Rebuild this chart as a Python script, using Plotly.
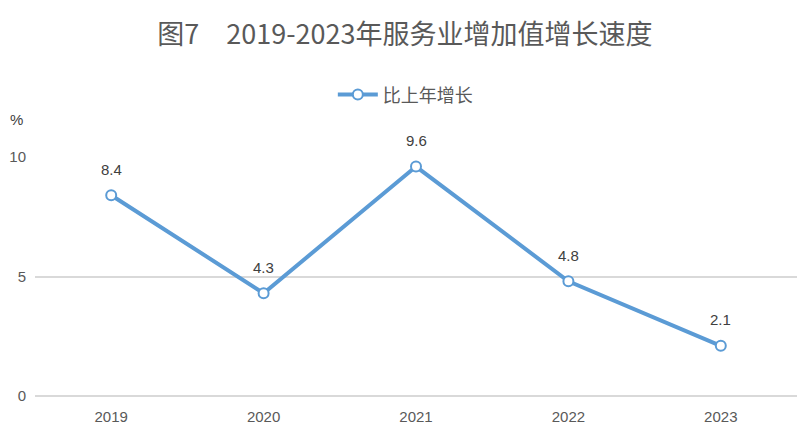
import plotly.graph_objects as go

# data
years = ["2019", "2020", "2021", "2022", "2023"]
growth = [8.4, 4.3, 9.6, 4.8, 2.1]
y_ticks = [0, 5, 10]

line_color = "#5b9bd5"
text_color = "#595959"
num_font = "Liberation Sans Narrow, Liberation Sans"

fig = go.Figure(go.Scatter(
    x=years, y=growth, mode="lines+markers", name="比上年增长",
    line=dict(color=line_color, width=4),
    marker=dict(size=10, color="white", line=dict(color=line_color, width=2)),
    cliponaxis=False,
))

# data labels above each point (category index used for x)
for i, y in enumerate(growth):
    fig.add_annotation(x=i, y=y, text=f"{y}", showarrow=False, yshift=26,
                       font=dict(size=15, color="#404040", family=num_font))

# unit label, pinned to the left edge of the figure
fig.add_annotation(text="%", xref="paper", yref="paper", x=-27 / 762, y=1.155,
                   xanchor="left", yanchor="middle", showarrow=False,
                   font=dict(size=15, color="#404040", family="Liberation Sans"))

# the page adds an 8px body margin, so margins are shifted to compensate
fig.update_layout(
    width=810, height=436,
    margin=dict(l=27, r=21, t=149, b=48),
    paper_bgcolor="white", plot_bgcolor="white",
    title=dict(text="图7　2019-2023年服务业增加值增长速度", x=0.49, y=0.938,
               xanchor="center", yanchor="middle",
               font=dict(size=27, color=text_color, family="Noto Sans CJK SC")),
    legend=dict(orientation="h", x=0.486, y=1.26, xanchor="center", yanchor="middle",
                itemwidth=40,
                font=dict(size=18, color=text_color, family="Noto Sans CJK SC")),
    showlegend=True,
    font=dict(family=num_font, color=text_color),
)
fig.update_xaxes(type="category", range=[-0.5, 4.5], showgrid=False, showline=False,
                 ticks="", ticklabelstandoff=10, automargin=False,
                 tickfont=dict(size=15, color=text_color))
fig.update_yaxes(range=[0, 10], tickvals=y_ticks, showgrid=True, gridcolor="#d9d9d9",
                 gridwidth=2, zeroline=True, zerolinecolor="#d9d9d9", zerolinewidth=2,
                 showline=False, ticks="", ticklabelstandoff=8, automargin=False,
                 tickfont=dict(size=15, color=text_color))

fig.write_html("out.html")
